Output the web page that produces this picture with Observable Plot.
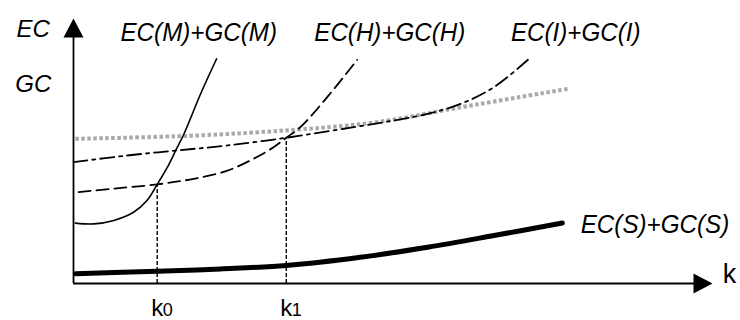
<!DOCTYPE html>
<html>
<head>
<meta charset="utf-8">
<script src="https://cdn.jsdelivr.net/npm/d3@7"></script>
<script src="https://cdn.jsdelivr.net/npm/@observablehq/plot@0.6"></script>
<style>
  html, body { margin: 0; padding: 0; background: #fff; }
  #chart svg { display: block; }
</style>
</head>
<body>
<div id="chart"></div>
<script>
// ---- data (abstract units: k on x 0..10, cost on y 0..10) ----
const curveM_k = [0.03, 0.32, 0.63, 0.94, 1.15, 1.31, 1.47, 1.60, 1.73, 1.99, 2.24];
const curveM_c = [2.28, 2.25, 2.38, 2.69, 3.13, 3.74, 4.39, 5.02, 5.65, 7.16, 8.48];

const curveH_k = [0.08, 0.58, 1.31, 1.88, 2.41, 2.82, 3.13, 3.33, 3.55, 3.97, 4.44];
const curveH_c = [3.45, 3.57, 3.74, 3.95, 4.26, 4.71, 5.14, 5.50, 5.90, 7.03, 8.44];

const curveI_k = [0.00, 0.84, 1.62, 2.41, 3.33, 4.23, 5.01, 5.54, 6.06, 6.58, 7.13];
const curveI_c = [4.58, 4.83, 5.02, 5.21, 5.50, 5.84, 6.15, 6.40, 6.78, 7.41, 8.48];

const curveG_k = [0.03, 1.88, 3.45, 4.75, 6.06, 7.75];
const curveG_c = [5.46, 5.58, 5.80, 6.09, 6.65, 7.35];

const curveS_k = [0.03, 1.31, 2.30, 3.33, 4.49, 5.54, 6.58, 7.65];
const curveS_c = [0.37, 0.46, 0.55, 0.68, 0.99, 1.37, 1.81, 2.28];

const dropK = [1.31, 3.33];
const dropC = [3.74, 5.50];
const dropLabels = ["0", "1"];

const curveLabels = ["EC(M)+GC(M)", "EC(H)+GC(H)", "EC(I)+GC(I)", "EC(S)+GC(S)"];
const curveLabelK = [1.96, 4.95, 7.86, 9.10];
const curveLabelC = [9.47, 9.47, 9.47, 2.21];

const axisLabels = ["EC", "GC"];
const axisLabelC = [9.6, 7.5];

// ---- build tables ----
const toPts = (ks, cs) => ks.map((k, i) => ({k, c: cs[i]}));
const M = toPts(curveM_k, curveM_c);
const H = toPts(curveH_k, curveH_c);
const I = toPts(curveI_k, curveI_c);
const G = toPts(curveG_k, curveG_c);
const S = toPts(curveS_k, curveS_c);
const drops = dropK.map((k, i) => ({k, c: dropC[i], sub: dropLabels[i]}));
const labels = curveLabels.map((t, i) => ({t, k: curveLabelK[i], c: curveLabelC[i]}));
const yLabels = axisLabels.map((t, i) => ({t, c: axisLabelC[i]}));

const upHead = {draw(ctx) { ctx.moveTo(0, 0); ctx.lineTo(10, 19); ctx.lineTo(-10, 19); ctx.closePath(); }};
const rightHead = {draw(ctx) { ctx.moveTo(0, 0); ctx.lineTo(-19, -10); ctx.lineTo(-19, 10); ctx.closePath(); }};

const font = "Liberation Sans, Arial, Helvetica, sans-serif";
const smooth = "catmull-rom";

const chart = Plot.plot({
  width: 740,
  height: 320,
  marginLeft: 73,
  marginRight: 28,
  marginTop: 18,
  marginBottom: 37,
  x: {domain: [0, 10], axis: null},
  y: {domain: [0, 10], axis: null},
  style: {fontFamily: font, background: "#fff", overflow: "visible"},
  marks: [
    // axes
    Plot.ruleY([0], {x1: 0, x2: 9.8, stroke: "black", strokeWidth: 1.8}),
    Plot.ruleX([0], {y1: 0, y2: 9.5, stroke: "black", strokeWidth: 1.8}),
    Plot.dot([{k: 0, c: 10}], {x: "k", y: "c", symbol: upHead, fill: "black", stroke: "none"}),
    Plot.dot([{k: 10, c: 0}], {x: "k", y: "c", symbol: rightHead, fill: "black", stroke: "none"}),
    // drop lines
    Plot.ruleX(drops, {x: "k", y1: 0, y2: "c", stroke: "black", strokeWidth: 1.4, strokeDasharray: "4,2"}),
    // curves
    Plot.line(G, {x: "k", y: "c", curve: smooth, stroke: "#a9a9a9", strokeWidth: 4, strokeDasharray: "3.5,2.5", strokeLinecap: "butt"}),
    Plot.line(S, {x: "k", y: "c", curve: smooth, stroke: "black", strokeWidth: 5}),
    Plot.line(I, {x: "k", y: "c", curve: smooth, stroke: "black", strokeWidth: 1.8, strokeDasharray: "14,5,3,5"}),
    Plot.line(H, {x: "k", y: "c", curve: smooth, stroke: "black", strokeWidth: 1.8, strokeDasharray: "12,6"}),
    Plot.line(M, {x: "k", y: "c", curve: smooth, stroke: "black", strokeWidth: 1.6}),
    // curve labels
    Plot.text(labels, {x: "k", y: "c", text: "t", fontSize: 26, fontStyle: "italic", fill: "black", textAnchor: "middle", className: "clabel"}),
    // axis labels
    Plot.text(yLabels, {x: () => -0.63, y: "c", text: "t", fontSize: 24, fontStyle: "italic", fill: "black", textAnchor: "middle"}),
    Plot.text(["k"], {x: () => 10.16, y: () => 0.36, text: d => d, fontSize: 27, fill: "black", textAnchor: "start"}),
    Plot.text(drops, {x: "k", y: () => -0.92, text: () => "k", fontSize: 24, fill: "black", textAnchor: "middle"}),
    Plot.text(drops, {x: "k", y: () => -0.92, text: "sub", fontSize: 18, fill: "black", textAnchor: "start", dx: 5.5, dy: 2})
  ]
});
document.getElementById("chart").appendChild(chart);
// slightly condense the curve labels horizontally, like the reference typeface
d3.select(chart).selectAll(".clabel text").each(function () {
  const w = this.getComputedTextLength();
  this.setAttribute("textLength", (w * 0.93).toFixed(1));
  this.setAttribute("lengthAdjust", "spacingAndGlyphs");
});
</script>
</body>
</html>
